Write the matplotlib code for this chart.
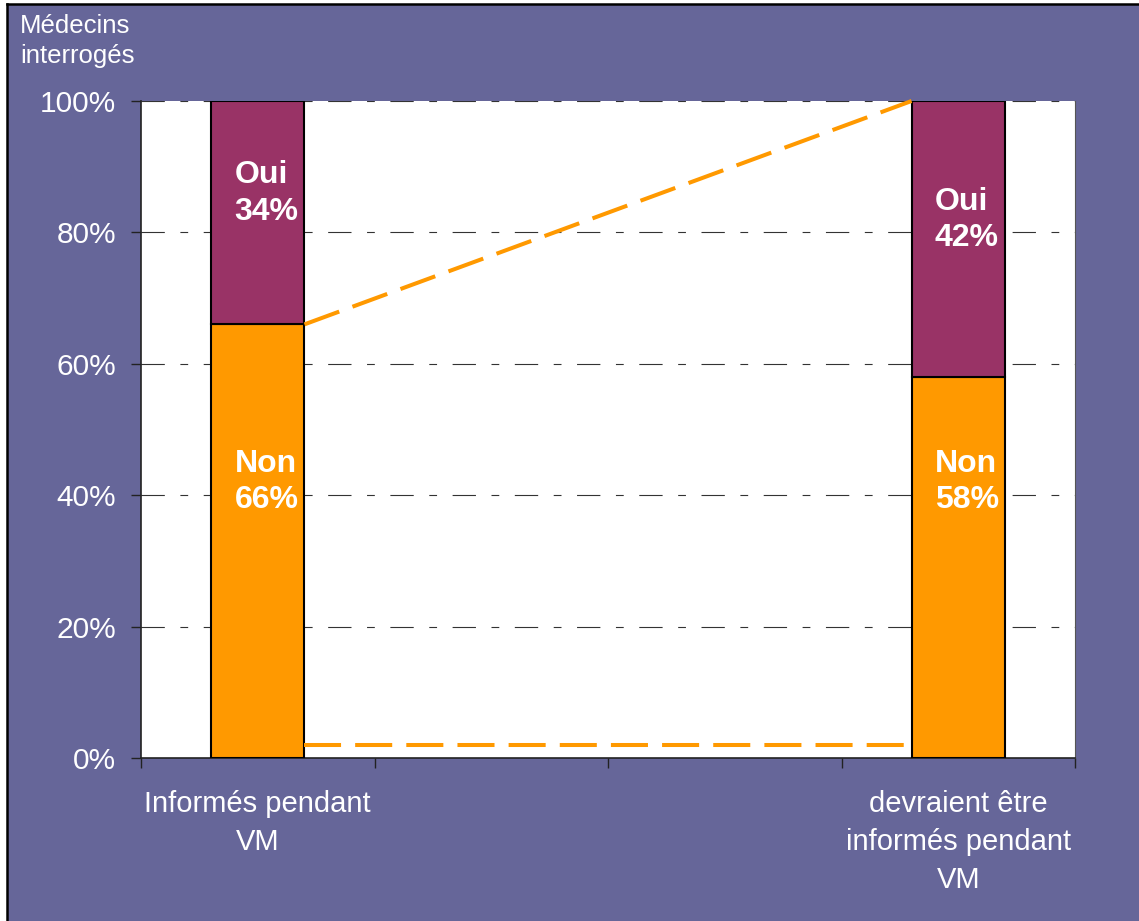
import matplotlib
matplotlib.use("Agg")
import matplotlib.pyplot as plt
from matplotlib.patches import Rectangle
from matplotlib.ticker import FixedLocator, FuncFormatter

# Survey answers per question (percent of physicians)
categories = ["Informés pendant\nVM", "", "", "devraient être\ninformés pendant\nVM"]
non_values = [66, None, None, 58]
oui_values = [34, None, None, 42]
yticks = [0, 20, 40, 60, 80, 100]

BG = "#666699"
ORANGE = "#FF9900"
PLUM = "#993366"

plt.rcParams["font.family"] = ["Liberation Sans", "DejaVu Sans"]

fig = plt.figure(figsize=(11.39, 9.21), dpi=100)
fig.patch.set_facecolor(BG)
# white margin and thin black frame on the top and left
fx, fy = 7 / 1139, 1 - 4 / 921
fig.add_artist(Rectangle((0, 0), fx, 1, transform=fig.transFigure,
                         facecolor="white", edgecolor="none", zorder=-2))
fig.add_artist(Rectangle((0, fy), 1, 1 - fy, transform=fig.transFigure,
                         facecolor="white", edgecolor="none", zorder=-2))
fig.add_artist(plt.Line2D([fx, fx], [0, fy], transform=fig.transFigure,
                          color="black", lw=1.8, zorder=-1))
fig.add_artist(plt.Line2D([fx, 1], [fy, fy], transform=fig.transFigure,
                          color="black", lw=1.8, zorder=-1))

ax = fig.add_axes([141 / 1139, (921 - 758) / 921,
                   (1075 - 141) / 1139, (758 - 101) / 921])
ax.set_facecolor("white")

xs = list(range(len(categories)))
width = 0.4
for x, n, o in zip(xs, non_values, oui_values):
    if n is None:
        continue
    ax.bar(x, n, width=width, color=ORANGE, edgecolor="black", linewidth=1.5, zorder=3)
    ax.bar(x, o, bottom=n, width=width, color=PLUM, edgecolor="black", linewidth=1.5, zorder=3)
    ax.text(x - 0.1, n + o / 2 + 2.9, f"Oui\n{o}%", color="white", fontsize=23,
            fontweight="bold", ha="left", va="center", linespacing=1.28, zorder=5)
    ax.text(x - 0.1, 42.0, f"Non\n{n}%", color="white", fontsize=23,
            fontweight="bold", ha="left", va="center", linespacing=1.28, zorder=5)

# connector lines between the two bars
left_edge = xs[0] + width / 2
right_edge = xs[-1] - width / 2
dash = (0, (9.2, 3.5))
ax.plot([left_edge, right_edge], [non_values[0], non_values[-1] + oui_values[-1]],
        color=ORANGE, lw=2.9, linestyle=dash, zorder=4, clip_on=False)
ax.plot([left_edge, right_edge], [2, 2], color=ORANGE, lw=2.9,
        linestyle=dash, zorder=4, clip_on=False)

ax.set_xlim(-0.5, len(categories) - 0.5)
ax.set_ylim(0, 100)

# gridlines
for y in yticks[1:]:
    ax.axhline(y, color="#333333", lw=0.8, linestyle=(0, (21, 14, 7, 14)), zorder=1)

ax.yaxis.set_major_locator(FixedLocator(yticks))
ax.yaxis.set_major_formatter(FuncFormatter(lambda v, p: f"{v:.0f}%"))
ax.tick_params(axis="y", length=7, width=1, color="#222222", labelsize=21.5,
               labelcolor="white", pad=11, direction="out")

ax.set_xticks([i - 0.5 for i in range(len(categories) + 1)])
ax.set_xticklabels([])
ax.set_xticks(xs, minor=True)
ax.set_xticklabels(categories, minor=True)
ax.tick_params(axis="x", which="major", length=7, width=1, color="#222222", direction="out")
ax.tick_params(axis="x", which="minor", length=0, labelsize=21, labelcolor="white", pad=23)
for lbl in ax.get_xticklabels(minor=True):
    lbl.set_linespacing(1.45)

for side in ["left", "bottom"]:
    ax.spines[side].set_color("#222222")
    ax.spines[side].set_linewidth(1.2)
ax.spines["right"].set_color("#555555")
ax.spines["right"].set_linewidth(0.8)
ax.spines["top"].set_visible(False)

fig.text(20 / 1139, 1 - 14 / 921, "Médecins\ninterrogés", color="white", fontsize=18.5,
         ha="left", va="top", linespacing=1.3)

fig.savefig("out.png", dpi=100, facecolor=fig.get_facecolor())
